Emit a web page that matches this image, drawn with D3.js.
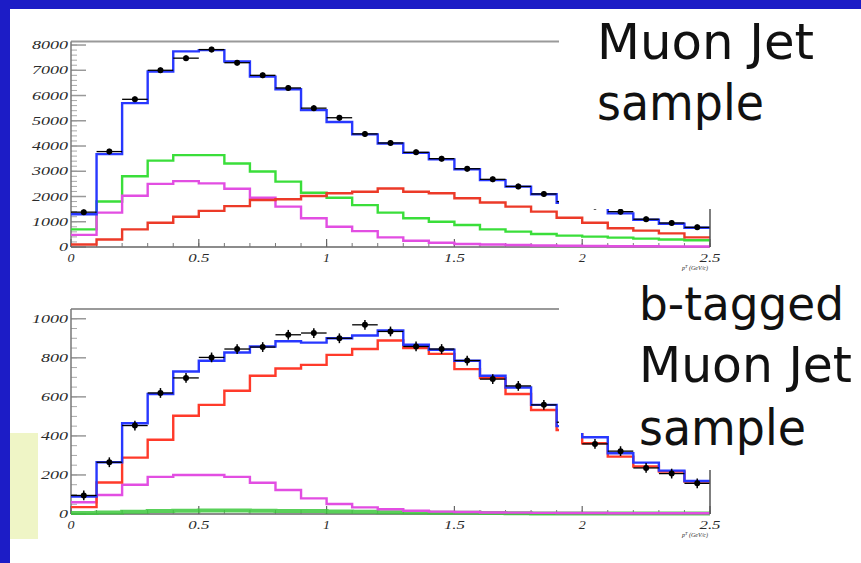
<!DOCTYPE html>
<html>
<head>
<meta charset="utf-8">
<title>Muon Jet sample</title>
<style>
html,body{margin:0;padding:0;background:#1c1cc6;overflow:hidden;}
svg{display:block;}
.tick-label{font-family:"Liberation Serif",serif;font-style:italic;fill:#2a2a2a;}
.slide-text{font-family:"DejaVu Sans",sans-serif;fill:#111;}
</style>
</head>
<body>
<svg id="chart" width="861" height="563"></svg>
<script src="https://cdn.jsdelivr.net/npm/d3@7"></script>
<script>
// ---------- data (bin lower edges, 0.1 wide) ----------
const binLow = [0,0.1,0.2,0.3,0.4,0.5,0.6,0.7,0.8,0.9,1.0,1.1,1.2,1.3,1.4,1.5,1.6,1.7,1.8,1.9,2.0,2.1,2.2,2.3,2.4];
const binWidth = 0.1;
const xTicks = [0,0.5,1,1.5,2,2.5];
const xTickLabels = ["0","0.5","1","1.5","2","2.5"];

// Muon Jet sample
const topTicks = [0,1000,2000,3000,4000,5000,6000,7000,8000];
const topBlue    = [1300,3680,5700,6950,7750,7800,7350,6750,6250,5420,4950,4460,4100,3730,3470,3080,2650,2390,2090,1750,1550,1330,1080,920,760];
const topData    = [1380,3780,5850,7000,7480,7820,7300,6800,6300,5500,5120,4480,4120,3750,3500,3100,2680,2400,2100,1800,1600,1400,1100,950,780];
const topGreen   = [700,1800,2800,3420,3640,3640,3310,2990,2590,2150,1950,1660,1360,1140,1000,870,700,610,515,450,410,370,330,300,270];
const topMagenta = [480,1360,2030,2500,2610,2520,2310,1950,1600,1140,800,630,380,250,170,120,100,80,60,50,40,30,30,20,20];
const topRed     = [100,300,700,960,1200,1430,1620,1860,1890,2020,2130,2190,2320,2190,2130,1930,1760,1600,1400,1160,960,740,650,540,380];

// b-tagged Muon Jet sample
const botTicks = [0,200,400,600,800,1000];
const botBlue    = [89,265,465,615,730,785,827,858,885,878,900,914,940,867,841,785,708,648,559,450,393,311,263,222,169];
const botData    = [95,265,453,620,697,802,845,855,918,927,900,969,935,858,845,786,691,656,559,470,359,322,236,207,157];
const botRed     = [35,161,289,380,503,559,631,708,745,764,815,845,889,850,820,742,696,615,533,430,362,294,243,217,166];
const botMagenta = [60,97,150,190,200,200,190,160,123,80,51,34,24,17,12,10,8,7,6,5,5,4,4,4,4];
const botGreen   = [5,8,12,15,17,18,18,17,16,15,13,11,9,8,7,6,5,4,3,3,2,2,2,2,2];

const svg = d3.select('#chart');

// slide background: white sheet on blue
svg.append('rect').attr('x',10).attr('y',9).attr('width',851).attr('height',554).attr('fill','#fff');
svg.append('rect').attr('x',10).attr('y',433).attr('width',28).attr('height',106).attr('fill','#eff5c6');

function panel(o){
  const x = d3.scaleLinear().domain([0,2.5]).range([71,710]);
  const y = d3.scaleLinear().domain([0,o.yMax]).range([o.y0,o.yTop]);
  const g = svg.append('g');

  // frame top line
  g.append('line').attr('x1',x(0)).attr('x2',x(2.5)).attr('y1',y(o.yMax)).attr('y2',y(o.yMax))
    .attr('stroke','#9a9a9a').attr('stroke-width',2);

  // y axis with minor ticks
  const minor = d3.range(0,o.yMax,o.minorStep);
  g.selectAll('.ymin').data(minor).join('line')
    .attr('x1',x(0)).attr('x2',x(0)+6).attr('y1',d=>y(d)).attr('y2',d=>y(d))
    .attr('stroke','#a8a8a8').attr('stroke-width',1);
  g.selectAll('.ymaj').data(o.ticks).join('line')
    .attr('x1',x(0)).attr('x2',x(0)+15).attr('y1',d=>y(d)).attr('y2',d=>y(d))
    .attr('stroke','#999').attr('stroke-width',1.5);
  g.append('line').attr('x1',x(0)).attr('x2',x(0)).attr('y1',y(0)).attr('y2',y(o.yMax))
    .attr('stroke','#777').attr('stroke-width',1.5);
  g.selectAll('.ylab').data(o.ticks).join('text').attr('class','tick-label')
    .attr('x',x(0)-3).attr('y',d=>y(d)+4).attr('text-anchor','end')
    .attr('font-size',12)
    .attr('textLength',d=>String(d).length*9).attr('lengthAdjust','spacingAndGlyphs')
    .text(d=>d);

  // x axis
  g.append('line').attr('x1',x(0)).attr('x2',x(2.5)).attr('y1',y(0)).attr('y2',y(0))
    .attr('stroke','#666').attr('stroke-width',1.5);
  g.selectAll('.xmin').data(binLow.concat([2.5])).join('line')
    .attr('x1',d=>x(d)).attr('x2',d=>x(d)).attr('y1',y(0)).attr('y2',y(0)-4)
    .attr('stroke','#777').attr('stroke-width',1);
  g.selectAll('.xmaj').data(xTicks).join('line')
    .attr('x1',d=>x(d)).attr('x2',d=>x(d)).attr('y1',y(0)).attr('y2',y(0)-8)
    .attr('stroke','#666').attr('stroke-width',1.2);
  g.selectAll('.xlab').data(xTicks).join('text').attr('class','tick-label')
    .attr('x',d=>x(d)).attr('y',y(0)+15).attr('text-anchor','middle')
    .attr('font-size',12)
    .attr('textLength',(d,i)=>xTickLabels[i].length*7).attr('lengthAdjust','spacingAndGlyphs')
    .text((d,i)=>xTickLabels[i]);
  const t = g.append('text').attr('class','tick-label').attr('x',x(2.5)-2).attr('y',y(0)+23)
    .attr('text-anchor','end').attr('font-size',6).attr('font-style','normal');
  t.append('tspan').text('p');
  t.append('tspan').attr('dy',-2).attr('font-size',4.5).text('T');
  t.append('tspan').attr('dy',2).text(' (GeV/c)');

  // step histograms
  const line = d3.line().curve(d3.curveStepAfter).x(d=>x(d[0])).y(d=>y(d[1]));
  o.series.forEach(s=>{
    const pts = binLow.map((b,i)=>[b,s.values[i]]);
    pts.push([2.5,s.values[s.values.length-1]]);
    g.append('path').attr('d',line(pts)).attr('fill','none')
      .attr('stroke',s.color).attr('stroke-width',s.width||2.4)
      .attr('stroke-opacity',s.opacity||1);
  });

  // data points with error bars
  const pg = g.append('g');
  binLow.forEach((b,i)=>{
    const v = o.data[i];
    pg.append('line').attr('x1',x(b)).attr('x2',x(b+binWidth)).attr('y1',y(v)).attr('y2',y(v))
      .attr('stroke','#000').attr('stroke-width',1.3);
    pg.append('line').attr('x1',x(b+binWidth/2)).attr('x2',x(b+binWidth/2))
      .attr('y1',y(v-o.err)).attr('y2',y(v+o.err)).attr('stroke','#000').attr('stroke-width',1.5);
    pg.append('circle').attr('cx',x(b+binWidth/2)).attr('cy',y(v)).attr('r',3).attr('fill','#000');
  });

  // white text box over upper right of plot
  g.append('rect').attr('x',559).attr('y',o.boxTop).attr('width',302).attr('height',o.boxBottom-o.boxTop)
    .attr('fill','#fff');
  // visible part of right frame edge
  g.append('line').attr('x1',x(2.5)).attr('x2',x(2.5)).attr('y1',o.rightFrom).attr('y2',y(0))
    .attr('stroke','#555').attr('stroke-width',1.5);
}

panel({
  yMax:8140, y0:247, yTop:41.5, ticks:topTicks, minorStep:200, err:110,
  data:topData, boxTop:9, boxBottom:209, rightFrom:209,
  series:[
    {values:topGreen,color:'#3ade3a'},
    {values:topMagenta,color:'#e24ee2'},
    {values:topRed,color:'#ec3a28'},
    {values:topBlue,color:'#2838ff'}
  ]
});

panel({
  yMax:1050, y0:514, yTop:309, ticks:botTicks, minorStep:50, err:25,
  data:botData, boxTop:280, boxBottom:433, rightFrom:470,
  series:[
    {values:botGreen,color:'#3cc83c',width:4,opacity:0.85},
    {values:botMagenta,color:'#e24ee2'},
    {values:botRed,color:'#ff3a2a'},
    {values:botBlue,color:'#2838ff'}
  ]
});

// slide text
const labels = [
  {text:'Muon Jet', x:597, y:59, len:217, size:50},
  {text:'sample', x:597, y:120, len:167, size:50},
  {text:'b-tagged', x:639, y:320, len:205, size:46},
  {text:'Muon Jet', x:639, y:382, len:213, size:49},
  {text:'sample', x:639, y:445, len:167, size:50}
];
svg.selectAll('.slide-text').data(labels).join('text').attr('class','slide-text')
  .attr('x',d=>d.x).attr('y',d=>d.y).attr('font-size',d=>d.size)
  .attr('textLength',d=>d.len).attr('lengthAdjust','spacingAndGlyphs')
  .text(d=>d.text);
</script>
</body>
</html>
